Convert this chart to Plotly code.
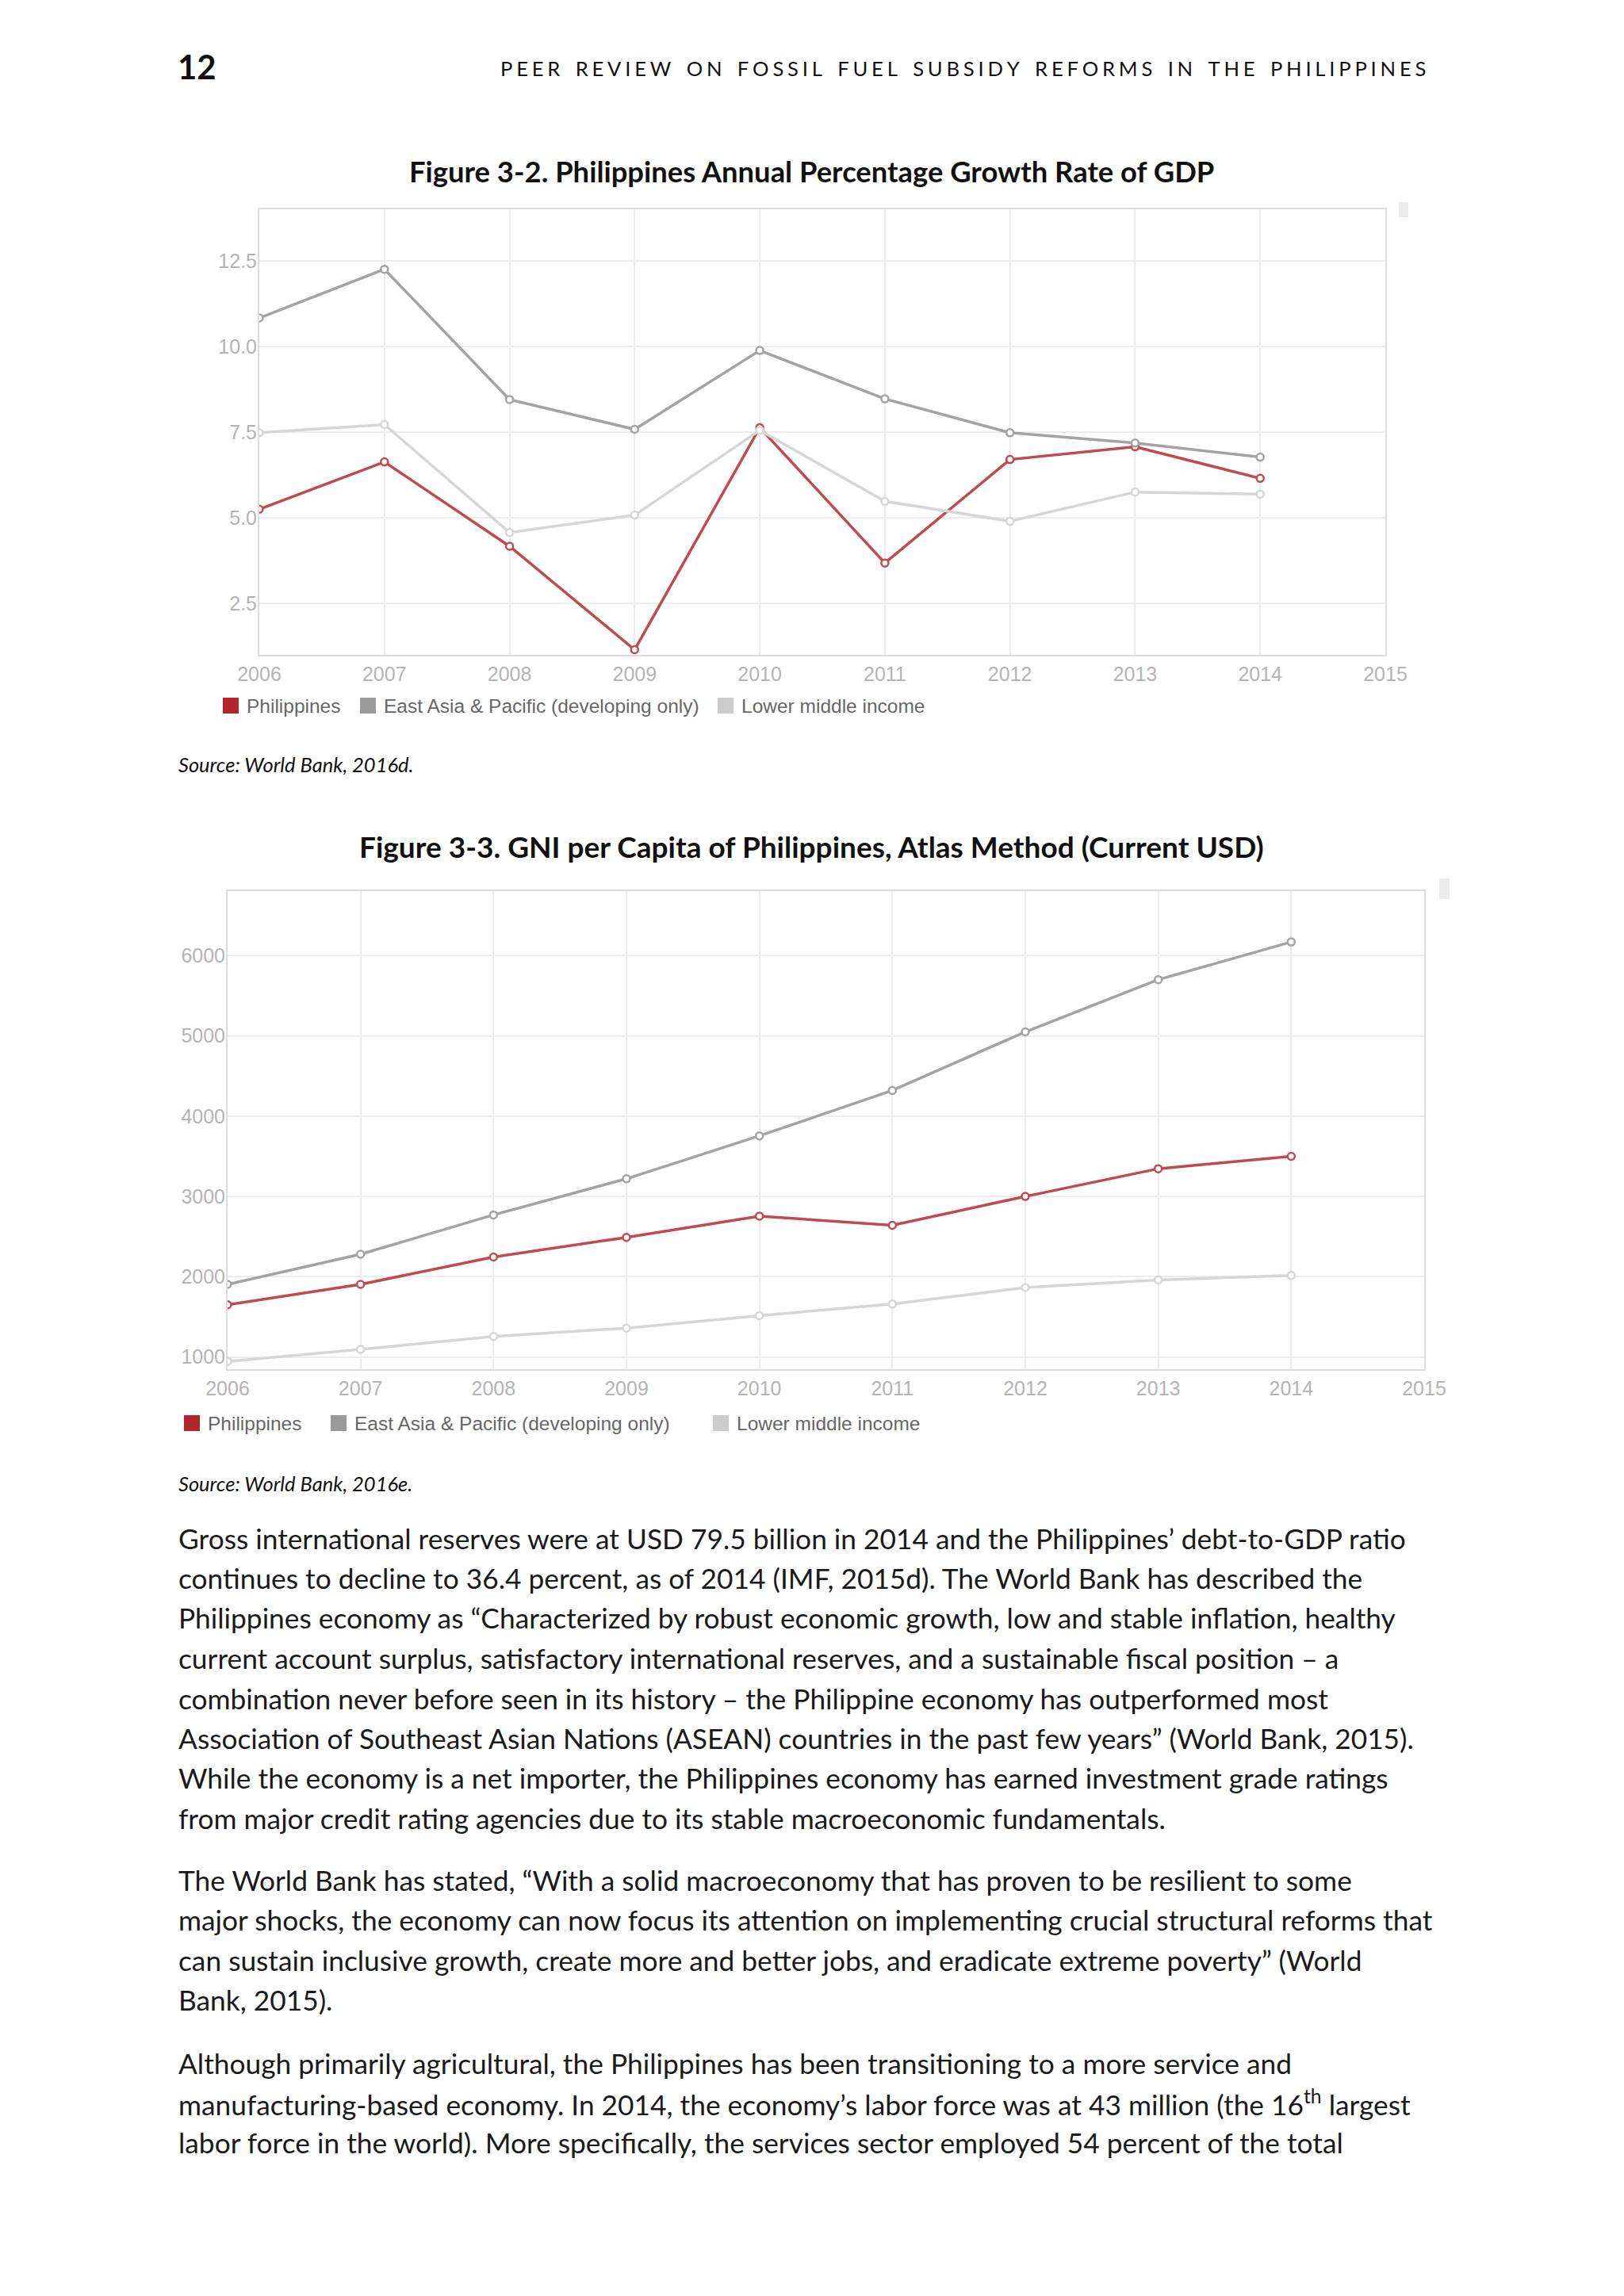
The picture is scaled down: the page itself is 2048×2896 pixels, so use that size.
import plotly.graph_objects as go

W, H = 2048, 2896
PAGE_OFFSET = 8  # browser body margin

years = [2006, 2007, 2008, 2009, 2010, 2011, 2012, 2013, 2014]
series_names = ["Philippines", "East Asia & Pacific (developing only)", "Lower middle income"]

gdp_philippines = [5.25, 6.63, 4.17, 1.15, 7.63, 3.68, 6.70, 7.07, 6.15]
gdp_eap = [10.83, 12.25, 8.45, 7.58, 9.88, 8.47, 7.48, 7.18, 6.77]
gdp_lmi = [7.48, 7.72, 4.57, 5.08, 7.55, 5.48, 4.90, 5.75, 5.69]

gni_philippines = [1650, 1905, 2245, 2490, 2755, 2640, 3000, 3345, 3500]
gni_eap = [1905, 2280, 2770, 3220, 3755, 4320, 5050, 5700, 6170]
gni_lmi = [945, 1095, 1255, 1360, 1515, 1660, 1865, 1960, 2015]

x_ticks = [2006, 2007, 2008, 2009, 2010, 2011, 2012, 2013, 2014, 2015]
gdp_ticks = [2.5, 5.0, 7.5, 10.0, 12.5]
gni_ticks = [1000, 2000, 3000, 4000, 5000, 6000]

line_colors = ["#c04a50", "#a3a3a3", "#d6d6d6"]
legend_colors = ["#b22528", "#9a9a9a", "#cccccc"]

header_title = "PEER REVIEW ON FOSSIL FUEL SUBSIDY REFORMS IN THE PHILIPPINES"
fig1_title = "Figure 3-2. Philippines Annual Percentage Growth Rate of GDP"
fig2_title = "Figure 3-3. GNI per Capita of Philippines, Atlas Method (Current USD)"
source1 = "Source: World Bank, 2016d."
source2 = "Source: World Bank, 2016e."

body_lines = [
    (1941, "Gross international reserves were at USD 79.5 billion in 2014 and the Philippines’ debt-to-GDP ratio"),
    (1991, "continues to decline to 36.4 percent, as of 2014 (IMF, 2015d). The World Bank has described the"),
    (2041, "Philippines economy as “Characterized by robust economic growth, low and stable inflation, healthy"),
    (2091, "current account surplus, satisfactory international reserves, and a sustainable fiscal position – a"),
    (2142, "combination never before seen in its history – the Philippine economy has outperformed most"),
    (2192, "Association of Southeast Asian Nations (ASEAN) countries in the past few years” (World Bank, 2015)."),
    (2242, "While the economy is a net importer, the Philippines economy has earned investment grade ratings"),
    (2293, "from major credit rating agencies due to its stable macroeconomic fundamentals."),
    (2371, "The World Bank has stated, “With a solid macroeconomy that has proven to be resilient to some"),
    (2421, "major shocks, the economy can now focus its attention on implementing crucial structural reforms that"),
    (2472, "can sustain inclusive growth, create more and better jobs, and eradicate extreme poverty” (World"),
    (2522, "Bank, 2015)."),
    (2602, "Although primarily agricultural, the Philippines has been transitioning to a more service and"),
    (2652, "manufacturing-based economy. In 2014, the economy’s labor force was at 43 million (the 16<sup>th</sup> largest"),
    (2702, "labor force in the world). More specifically, the services sector employed 54 percent of the total"),
]

CHART_FONT = "Liberation Sans, Arial, sans-serif"
TEXT_FONT = "Lato, 'Open Sans', sans-serif"


def px_x(v):
    return (v - PAGE_OFFSET) / W


def px_y(v):
    return 1 - (v - PAGE_OFFSET) / H


fig = go.Figure()

gdp_data = [gdp_philippines, gdp_eap, gdp_lmi]
gni_data = [gni_philippines, gni_eap, gni_lmi]

for xa, ya, data in [("x", "y", gdp_data), ("x2", "y2", gni_data)]:
    for i, (name, vals) in enumerate(zip(series_names, data)):
        fig.add_trace(go.Scatter(
            x=years, y=vals, name=name, mode="lines+markers",
            line=dict(color=line_colors[i], width=3.5),
            marker=dict(symbol="circle", size=9, color="white",
                        line=dict(color=line_colors[i], width=2.5)),
            xaxis=xa, yaxis=ya, showlegend=False,
        ))

legend_common = dict(
    orientation="h", xanchor="left", yanchor="middle",
    font=dict(family=CHART_FONT, size=24.5, color="#666666"),
    bgcolor="rgba(0,0,0,0)", itemclick=False, itemdoubleclick=False,
)

# one legend per entry so each swatch sits where the reference puts it
legend_specs = [
    ("x", "y", 890, [290, 463, 914]),
    ("x2", "y2", 1795, [241, 426, 908]),
]
legend_layout = {}
k = 1
for xa, ya, ly, sq_x in legend_specs:
    for i, name in enumerate(series_names):
        lid = "legend" if k == 1 else f"legend{k}"
        fig.add_trace(go.Scatter(
            x=[None], y=[None], name=name, mode="markers",
            marker=dict(symbol="square", size=16, color=legend_colors[i],
                        line=dict(color=legend_colors[i], width=4)),
            xaxis=xa, yaxis=ya, legend=lid, showlegend=True,
        ))
        legend_layout[lid] = dict(x=px_x(sq_x[i] - 19), y=px_y(ly), **legend_common)
        k += 1

axis_common = dict(
    showgrid=True, gridcolor="#ececec", gridwidth=2,
    showline=True, linecolor="#dcdcdc", linewidth=2, mirror=True,
    zeroline=False, ticks="", fixedrange=True, automargin=False,
    tickfont=dict(family=CHART_FONT, size=25, color="#b4b4b4"),
)

fig.update_layout(
    width=W, height=H,
    margin=dict(l=0, r=0, t=0, b=0, pad=0, autoexpand=False),
    paper_bgcolor="white", plot_bgcolor="white",
    xaxis=dict(domain=[px_x(327), px_x(1747)], range=[2006, 2015], anchor="y",
               tickvals=x_ticks, ticktext=[str(t) for t in x_ticks], ticklabelstandoff=1,
               **axis_common),
    yaxis=dict(domain=[px_y(826), px_y(264)], range=[1.0, 14.0], anchor="x",
               tickvals=gdp_ticks, ticktext=[f"{t:.1f}" for t in gdp_ticks], ticklabelstandoff=-4,
               **axis_common),
    xaxis2=dict(domain=[px_x(287), px_x(1796)], range=[2006, 2015], anchor="y2",
                tickvals=x_ticks, ticktext=[str(t) for t in x_ticks], ticklabelstandoff=1,
                **axis_common),
    yaxis2=dict(domain=[px_y(1727), px_y(1124)], range=[848, 6803], anchor="x2",
                tickvals=gni_ticks, ticktext=[str(t) for t in gni_ticks], ticklabelstandoff=-4,
                **axis_common),
    **legend_layout,
)

annotations = []
annotations.append(dict(text="<b>12</b>", x=px_x(222), y=px_y(84), xref="paper", yref="paper",
                        xanchor="left", yanchor="middle", showarrow=False,
                        font=dict(family=TEXT_FONT, size=42, weight=900, color="#111111")))
spaced = "\u2009\u200a".join(list(header_title)).replace("\u2009\u200a \u2009\u200a", "\u2009\u200a \u2009\u200a\u2009")
annotations.append(dict(text=spaced, x=px_x(1800), y=px_y(86), xref="paper", yref="paper",
                        xanchor="right", yanchor="middle", showarrow=False,
                        font=dict(family=TEXT_FONT, size=25.6, color="#111111")))
annotations.append(dict(text=f"<b>{fig1_title}</b>", x=px_x(1023), y=px_y(216), xref="paper", yref="paper",
                        xanchor="center", yanchor="middle", showarrow=False,
                        font=dict(family=TEXT_FONT, size=36.4, color="#111111")))
annotations.append(dict(text=f"<b>{fig2_title}</b>", x=px_x(1023), y=px_y(1067), xref="paper", yref="paper",
                        xanchor="center", yanchor="middle", showarrow=False,
                        font=dict(family=TEXT_FONT, size=37, color="#111111")))
for txt, yy in [(source1, 964), (source2, 1871)]:
    annotations.append(dict(text=f"<i>{txt}</i>", x=px_x(223), y=px_y(yy), xref="paper", yref="paper",
                            xanchor="left", yanchor="middle", showarrow=False,
                            font=dict(family=TEXT_FONT, size=25.5, color="#111111")))
for yy, txt in body_lines:
    annotations.append(dict(text=txt, x=px_x(223), y=px_y(yy), xref="paper", yref="paper",
                            xanchor="left", yanchor="middle", showarrow=False,
                            font=dict(family=TEXT_FONT, size=35.3, color="#1a1a1a")))
fig.update_layout(annotations=annotations)

# small scrollbar artefacts at top-right of each chart image
fig.add_shape(type="rect", xref="paper", yref="paper",
              x0=px_x(1764), x1=px_x(1776), y0=px_y(274), y1=px_y(255),
              fillcolor="#ebebeb", line=dict(width=0), layer="below")
fig.add_shape(type="rect", xref="paper", yref="paper",
              x0=px_x(1815), x1=px_x(1828), y0=px_y(1134), y1=px_y(1108),
              fillcolor="#ebebeb", line=dict(width=0), layer="below")

fig.write_html("out.html")
